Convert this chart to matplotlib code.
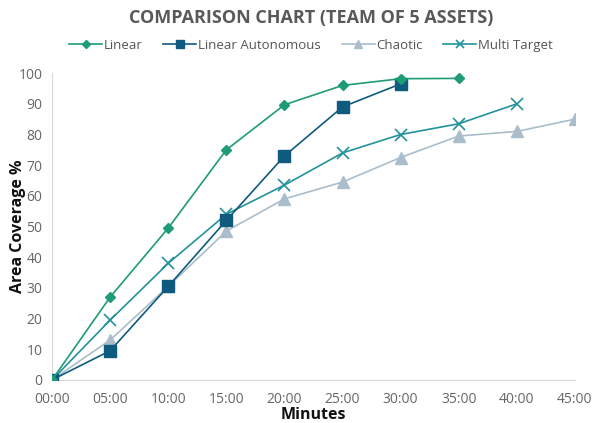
import matplotlib.pyplot as plt

minutes = ["00:00", "05:00", "10:00", "15:00", "20:00", "25:00", "30:00", "35:00", "40:00", "45:00"]
linear = [0, 27, 49.5, 75, 89.7, 96, 98.2, 98.3]
linear_auto = [0, 9.5, 30.5, 52, 73, 89, 96.5]
chaotic = [0, 13, 30.5, 48.5, 59, 64.5, 72.5, 79.5, 81, 85]
multi = [0, 19.5, 38, 54, 63.5, 74, 80, 83.5, 90]

plt.rcParams['font.family'] = ['Open Sans', 'DejaVu Sans']

fig = plt.figure(figsize=(5.92, 4.23), dpi=100)
ax = fig.add_axes([0.088, 0.102, 0.883, 0.725])

ax.plot(range(len(linear_auto)), linear_auto, color='#0f5b7f', marker='s', ms=8, lw=1.2, label='Linear Autonomous', zorder=3)
ax.plot(range(len(chaotic)), chaotic, color='#aabdcb', marker='^', ms=8, lw=1.2, label='Chaotic', zorder=2)
ax.plot(range(len(multi)), multi, color='#23929c', marker='x', ms=8, mew=1.2, lw=1.2, label='Multi Target', zorder=2)
ax.plot(range(len(linear)), linear, color='#1d9c77', marker='D', ms=5.5, lw=1.2, label='Linear', zorder=4)

ax.set_xlim(0, len(minutes) - 1)
ax.set_ylim(0, 100)
ax.set_xticks(range(len(minutes)))
ax.set_xticklabels(minutes)
ax.set_yticks(range(0, 101, 10))
ax.tick_params(length=0, labelsize=10, colors='#666666', pad=7)
ax.tick_params(axis='x', pad=9)
for s in ['top', 'right']:
    ax.spines[s].set_visible(False)
for s in ['left', 'bottom']:
    ax.spines[s].set_color('#d9d9d9')
ax.set_xlabel('Minutes', fontsize=11.5, fontweight='bold', color='#111111', labelpad=0)
ax.set_ylabel('Area Coverage %', fontsize=11.5, fontweight='bold', color='#111111')
ax.yaxis.set_label_coords(-0.05, 0.5)

handles, labels = ax.get_legend_handles_labels()
order = [3, 0, 1, 2]
fig.legend([handles[i] for i in order], [labels[i] for i in order], loc='center', bbox_to_anchor=(0.525, 0.893),
           ncol=4, frameon=False, fontsize=9.5, handlelength=2.5, columnspacing=1.6, handletextpad=0.1,
           labelcolor='#555555', markerscale=0.7)

fig.text(0.525, 0.958, 'COMPARISON CHART (TEAM OF 5 ASSETS)', ha='center', va='center',
         fontsize=13, fontweight='bold', color='#595959')

fig.savefig('out.png', dpi=100)
